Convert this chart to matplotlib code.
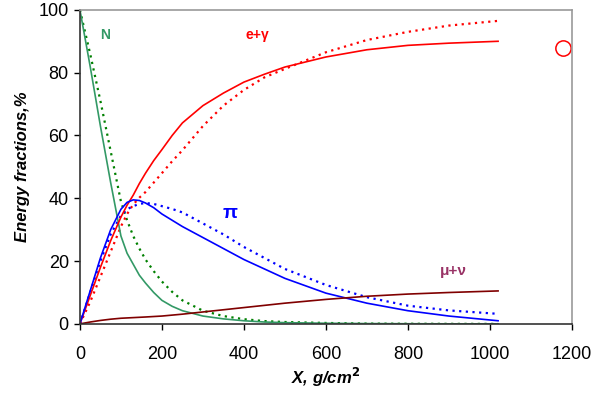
import matplotlib.pyplot as plt
import numpy as np

plt.rcParams['font.family'] = ['Liberation Sans', 'DejaVu Sans']

# depth, g/cm2
x = [0, 25, 50, 75, 100, 115, 130, 145, 160, 180, 200, 225, 250, 300, 350, 400, 450, 500, 600, 700, 800, 900, 1020]

# solid lines
n_solid = [100, 82, 63, 45, 28, 22.5, 19, 15.5, 13, 10, 7.5, 5.6, 4.2, 2.5, 1.6, 1.0, 0.6, 0.4, 0.2, 0.1, 0.05, 0.02, 0.0]
em_solid = [0, 9, 18, 26.5, 34, 37.8, 41, 44.7, 48, 52, 55.5, 60, 64, 69.5, 73.5, 77, 79.5, 81.8, 85, 87.3, 88.7, 89.4, 90]
pi_solid = [0, 10.5, 21, 30, 36.5, 38.7, 39.5, 39.3, 38.5, 37, 35, 33, 31, 27.5, 24, 20.5, 17.5, 14.5, 9.8, 6.6, 4.2, 2.5, 1.0]
mu_solid = [0, 0.6, 1.1, 1.5, 1.8, 1.9, 2.0, 2.1, 2.2, 2.35, 2.5, 2.8, 3.1, 3.8, 4.5, 5.2, 5.9, 6.6, 7.8, 8.8, 9.5, 10.0, 10.5]

# dotted lines
n_dot = [100, 86, 71, 55, 39, 33, 28, 24, 20.5, 16.8, 13.5, 10.2, 7.5, 4.2, 2.5, 1.5, 0.9, 0.6, 0.3, 0.1, 0.05, 0.02, 0.0]
em_dot = [0, 7, 15, 23, 31, 35, 38, 40.2, 42, 45, 48, 51.8, 55.3, 63, 69.5, 74.5, 78.5, 81.2, 86.5, 90.4, 93, 95, 96.5]
pi_dot = [0, 10, 20, 28.5, 34.5, 36.5, 37.5, 38.2, 38.5, 38.2, 37.5, 36.6, 35.5, 32, 28.5, 24.5, 21, 17.5, 12.4, 8.5, 5.8, 4.3, 3.2]

fig = plt.figure(figsize=(5.92, 3.95), dpi=100)
ax = fig.add_axes([0.135, 0.18, 0.831, 0.795])

dot = (0, (1, 2))
ax.plot(x, n_dot, color='#008000', lw=1.6, ls=dot)
ax.plot(x, em_dot, color='#ff0000', lw=1.6, ls=dot)
ax.plot(x, pi_dot, color='#0000ff', lw=1.6, ls=dot)
ax.plot(x, n_solid, color='#339966', lw=1.2)
ax.plot(x, em_solid, color='#ff0000', lw=1.2)
ax.plot(x, pi_solid, color='#0000ff', lw=1.2)
ax.plot(x, mu_solid, color='#800000', lw=1.2)

# open circle on the right
ax.plot([1178], [88], 'o', ms=11, mfc='none', mec='#ff0000', mew=1.1, clip_on=False)

ax.text(61, 92, 'N', color='#339966', fontsize=10, fontweight='bold', ha='center', va='center')
ax.text(434, 92, 'e+γ', color='#ff0000', fontsize=10, fontweight='bold', ha='center', va='center')
ax.text(366, 35, 'π', color='#0000ff', fontsize=14, fontweight='bold', ha='center', va='center')
ax.text(910, 17, 'μ+ν', color='#993366', fontsize=11, fontweight='bold', ha='center', va='center')

ax.set_xlim(0, 1200)
ax.set_ylim(0, 100)
ax.set_xticks(range(0, 1201, 200))
ax.set_yticks(range(0, 101, 20))
ax.tick_params(labelsize=13, length=4, width=1, direction='out', pad=12, axis='x')
ax.tick_params(labelsize=13, length=4, width=1, direction='out', pad=4, axis='y')
ax.set_xlabel('X, g/cm$^{\\mathbf{2}}$', fontsize=12, fontweight='bold', style='italic', labelpad=2)
ax.set_ylabel('Energy fractions,%', fontsize=12, fontweight='bold', style='italic', labelpad=6)

for s in ['left', 'bottom']:
    ax.spines[s].set_color('#333333')
    ax.spines[s].set_linewidth(1.2)
for s in ['top', 'right']:
    ax.spines[s].set_color('#999999')
    ax.spines[s].set_linewidth(1.2)

fig.savefig('out.png', dpi=100)
